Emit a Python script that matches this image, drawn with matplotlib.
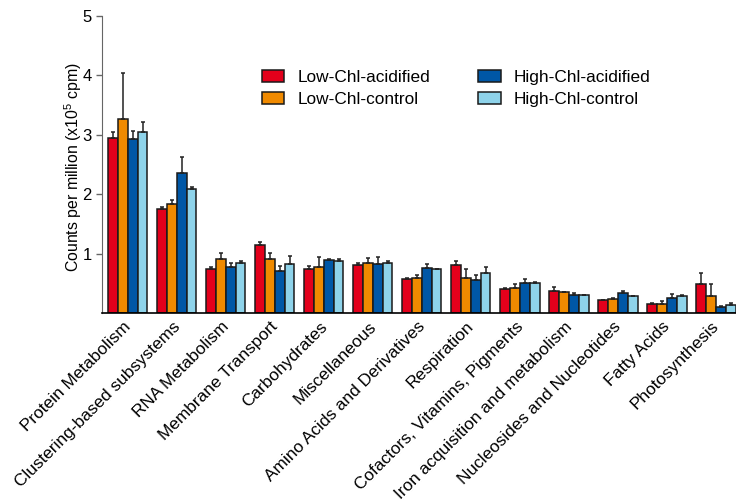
import numpy as np
import matplotlib
matplotlib.use("Agg")
import matplotlib.pyplot as plt
from matplotlib.transforms import ScaledTranslation

plt.rcParams['font.family'] = ['Liberation Sans', 'DejaVu Sans']
plt.rcParams['mathtext.default'] = 'regular'

categories = ["Protein Metabolism", "Clustering-based subsystems", "RNA Metabolism",
              "Membrane Transport", "Carbohydrates", "Miscellaneous",
              "Amino Acids and Derivatives", "Respiration", "Cofactors, Vitamins, Pigments",
              "Iron acquisition and metabolism", "Nucleosides and Nucleotides",
              "Fatty Acids", "Photosynthesis"]

series_names = ["Low-Chl-acidified", "Low-Chl-control", "High-Chl-acidified", "High-Chl-control"]
colors = ["#E3001B", "#F08A00", "#0057A6", "#8ED3EA"]

low_acid = [2.95, 1.75, 0.74, 1.15, 0.74, 0.81, 0.58, 0.81, 0.41, 0.38, 0.22, 0.16, 0.50]
low_acid_err = [0.10, 0.03, 0.04, 0.04, 0.06, 0.04, 0.01, 0.06, 0.01, 0.06, 0.01, 0.01, 0.17]
low_ctrl = [3.26, 1.84, 0.91, 0.91, 0.77, 0.84, 0.60, 0.60, 0.43, 0.35, 0.24, 0.16, 0.29]
low_ctrl_err = [0.77, 0.06, 0.11, 0.10, 0.18, 0.09, 0.05, 0.14, 0.07, 0.01, 0.02, 0.04, 0.21]
high_acid = [2.92, 2.35, 0.77, 0.71, 0.90, 0.82, 0.76, 0.56, 0.51, 0.31, 0.34, 0.26, 0.11]
high_acid_err = [0.15, 0.28, 0.07, 0.09, 0.01, 0.12, 0.06, 0.09, 0.07, 0.03, 0.03, 0.06, 0.02]
high_ctrl = [3.04, 2.09, 0.85, 0.83, 0.88, 0.84, 0.74, 0.67, 0.51, 0.31, 0.29, 0.29, 0.14]
high_ctrl_err = [0.18, 0.04, 0.02, 0.14, 0.04, 0.03, 0.0, 0.11, 0.02, 0.0, 0.0, 0.02, 0.04]

values = [low_acid, low_ctrl, high_acid, high_ctrl]
errors = [low_acid_err, low_ctrl_err, high_acid_err, high_ctrl_err]

fig = plt.figure(figsize=(7.36, 5.01), dpi=100)
ax = fig.add_axes([0.138, 0.3747, 0.862, 0.594])

x = np.arange(len(categories))
w = 0.2
for i in range(4):
    pos = x + (i - 1.5) * w
    ax.bar(pos, values[i], w, color=colors[i], edgecolor="#1a1a1a", linewidth=1.1,
           label=series_names[i], zorder=2)
    ax.errorbar(pos, values[i], yerr=[np.zeros(len(x)), errors[i]], fmt="none",
                ecolor="#222222", elinewidth=1.1, capsize=1.5, capthick=1.1, zorder=3)

ax.set_xlim(-0.537, 12.41)
ax.set_ylim(0, 5)
ax.set_yticks([1, 2, 3, 4, 5])
ax.tick_params(axis="y", labelsize=12, length=4, width=1, color="#666666", pad=3)
ax.set_xticks(x)
ax.set_xticklabels(categories, rotation=45, ha="right", fontsize=12.4)
ax.tick_params(axis="x", length=0, pad=4)
# nudge the slanted category names a little to the right
shift = ScaledTranslation(6 / 100, 0, fig.dpi_scale_trans)
for lab in ax.get_xticklabels():
    lab.set_transform(lab.get_transform() + shift)

ax.spines["top"].set_visible(False)
ax.spines["right"].set_visible(False)
ax.spines["left"].set_color("#666666")
ax.spines["bottom"].set_linewidth(1.2)

ax.set_ylabel("Counts per million (x10$^{5}$ cpm)", fontsize=11.4)
ax.yaxis.set_label_coords(-0.028, 0.493)

ax.legend(ncol=2, loc="upper left", bbox_to_anchor=(262 / 736, 1 - 70 / 501),
          bbox_transform=fig.transFigure, frameon=False, fontsize=12.4,
          handlelength=1.3, handleheight=0.7, handletextpad=0.75,
          columnspacing=2.8, labelspacing=0.4, borderpad=0, borderaxespad=0)

fig.savefig("out.png", dpi=100)
